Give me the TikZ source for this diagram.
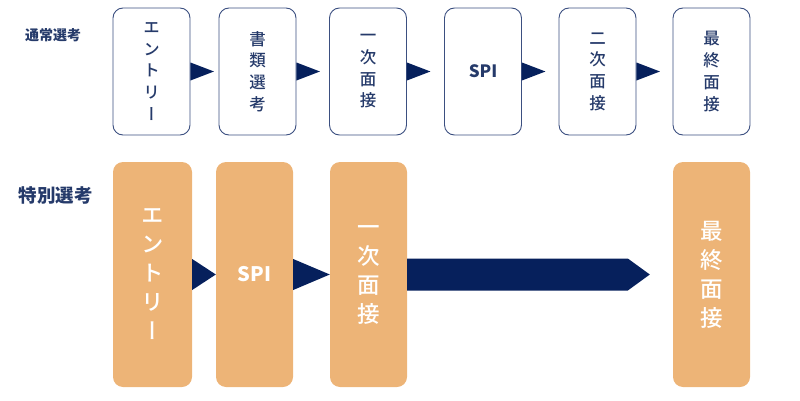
\documentclass[tikz,border=0pt]{standalone}
\usepackage{fontspec}
\setmainfont{Noto Sans CJK JP}
\newfontfamily\medfont{Noto Sans CJK JP Medium}[RawFeature=+vert]
\usetikzlibrary{calc}

\definecolor{navy}{HTML}{06205C}
\definecolor{navytext}{HTML}{253A6A}
\definecolor{navyline}{HTML}{3B4F80}
\definecolor{orange}{HTML}{EDB477}

\tikzset{
  normalbox/.style={draw=navyline, line width=0.9pt, rounded corners=10pt, fill=white,
    minimum width=77pt, minimum height=127pt, text=navytext, align=center,
    inner sep=0pt, font=\fontsize{16.5}{21.7}\medfont},
  specialbox/.style={fill=orange, rounded corners=10pt,
    minimum width=77pt, minimum height=225pt, text=white, align=center,
    inner sep=0pt, font=\fontsize{22.5}{29}\medfont},
  rowlabel/.style={text=navytext, font=\bfseries, inner sep=0pt}
}

\begin{document}
\begin{tikzpicture}[x=1pt, y=1pt]
    \useasboundingbox (0,0) rectangle (800,400);

    % --- Zeile 1: normale Auswahl ---
    \node[rowlabel, font=\fontsize{14}{14}\bfseries\selectfont] (lnormal) at (53,365) {通常選考};

    \node[normalbox] (n1) at (151.5,328.5) {エ\\ン\\ト\\リ\\ー};
    \node[normalbox] (n2) at (257.5,328.5) {書\\類\\選\\考};
    \node[normalbox] (n3) at (368,328.5) {一\\次\\面\\接};
    \node[normalbox, font=\fontsize{17}{20}\bfseries\selectfont] (n4) at (483,328.5) {SPI};
    \node[normalbox] (n5) at (597.5,328.5) {二\\次\\面\\接};
    \node[normalbox] (n6) at (711.5,328.5) {最\\終\\面\\接};

    % Pfeilspitzen zwischen den Kästen
    \foreach \a/\b in {n1/n2, n2/n3, n3/n4, n4/n5, n5/n6}
        \fill[navy] ([yshift=9pt]\a.east) -- ([xshift=23.5pt]\a.east) -- ([yshift=-9pt]\a.east) -- cycle;

    % --- Zeile 2: Sonderauswahl ---
    \node[rowlabel, font=\fontsize{18.5}{18.5}\bfseries\selectfont] (lspecial) at (55.5,204.5) {特別選考};

    \node[specialbox, minimum width=79pt] (s1) at (152.5,125.5) {エ\\ン\\ト\\リ\\ー};
    \node[specialbox, font=\fontsize{20}{24}\bfseries\selectfont] (s2) at (254.5,125.5) {SPI};
    \node[specialbox] (s3) at (368.5,125.5) {一\\次\\面\\接};
    \node[specialbox] (s4) at (711.5,125.5) {最\\終\\面\\接};

    \foreach \a/\b in {s1/s2, s2/s3}
        \fill[navy] ([yshift=15.5pt]\a.east) -- (\b.west) -- ([yshift=-15.5pt]\a.east) -- cycle;

    % langer Pfeil (Stufen übersprungen)
    \fill[navy] ([yshift=16pt]s3.east) -- ([xshift=-45pt, yshift=16pt]s4.west)
        -- ([xshift=-23pt]s4.west) -- ([xshift=-45pt, yshift=-16pt]s4.west)
        -- ([yshift=-16pt]s3.east) -- cycle;

\end{tikzpicture}
\end{document}
